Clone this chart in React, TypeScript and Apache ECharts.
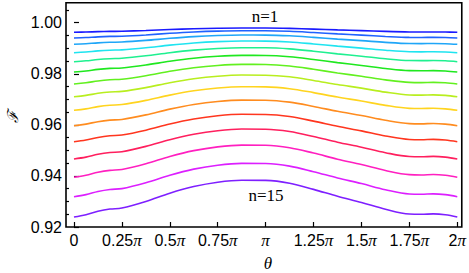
import React, { useEffect, useRef } from "react";
import * as echarts from "echarts";

// theta positions in units of pi
const thetas = [0, 0.0625, 0.125, 0.1875, 0.25, 0.375, 0.5, 0.625, 0.75, 0.875, 1, 1.125, 1.25, 1.375, 1.5, 1.625, 1.75, 1.8125, 1.875, 1.9375, 2];

const n1 = [0.99624, 0.99634, 0.9965, 0.9966, 0.99665, 0.99695, 0.99732, 0.99763, 0.99782, 0.99792, 0.99791, 0.99778, 0.9975, 0.99718, 0.9969, 0.99659, 0.99638, 0.99636, 0.99638, 0.99634, 0.99624];
const n2 = [0.99401, 0.99419, 0.99446, 0.99463, 0.99471, 0.99521, 0.99585, 0.99637, 0.99671, 0.99686, 0.99685, 0.99663, 0.99615, 0.99561, 0.99514, 0.99461, 0.99424, 0.99422, 0.99426, 0.99419, 0.99401];
const n3 = [0.99154, 0.99177, 0.99211, 0.99233, 0.99243, 0.99307, 0.99388, 0.99454, 0.99497, 0.99517, 0.99515, 0.99487, 0.99427, 0.99358, 0.99297, 0.9923, 0.99184, 0.99181, 0.99185, 0.99177, 0.99154];
const n4 = [0.98825, 0.98853, 0.98896, 0.98924, 0.98936, 0.99017, 0.9912, 0.99203, 0.99257, 0.99282, 0.99279, 0.99245, 0.99168, 0.99082, 0.99006, 0.98921, 0.98862, 0.98858, 0.98864, 0.98853, 0.98825];
const n5 = [0.98473, 0.98507, 0.98559, 0.98591, 0.98606, 0.98703, 0.98826, 0.98925, 0.9899, 0.99019, 0.99017, 0.98975, 0.98884, 0.9878, 0.98689, 0.98588, 0.98517, 0.98513, 0.9852, 0.98507, 0.98473];
const n6 = [0.98069, 0.9811, 0.98171, 0.9821, 0.98228, 0.98344, 0.9849, 0.98609, 0.98686, 0.98721, 0.98718, 0.98668, 0.98559, 0.98436, 0.98327, 0.98206, 0.98122, 0.98117, 0.98125, 0.9811, 0.98069];
const n7 = [0.97599, 0.97647, 0.97719, 0.97766, 0.97786, 0.97923, 0.98096, 0.98235, 0.98326, 0.98368, 0.98364, 0.98305, 0.98177, 0.98032, 0.97903, 0.97761, 0.97662, 0.97655, 0.97665, 0.97647, 0.97599];
const n8 = [0.97102, 0.97155, 0.97235, 0.97286, 0.97309, 0.97459, 0.97649, 0.97803, 0.97904, 0.9795, 0.97945, 0.97881, 0.97739, 0.97579, 0.97437, 0.97281, 0.97171, 0.97164, 0.97175, 0.97155, 0.97102];
const n9 = [0.9657, 0.96627, 0.96714, 0.9677, 0.96795, 0.96958, 0.97165, 0.97332, 0.97441, 0.97491, 0.97487, 0.97416, 0.97262, 0.97088, 0.96934, 0.96764, 0.96645, 0.96638, 0.9665, 0.96627, 0.9657];
const n10 = [0.95967, 0.96029, 0.96124, 0.96184, 0.96212, 0.9639, 0.96615, 0.96797, 0.96916, 0.9697, 0.96965, 0.96889, 0.96721, 0.96531, 0.96363, 0.96178, 0.96049, 0.9604, 0.96054, 0.96029, 0.95967];
const n11 = [0.9534, 0.95407, 0.95508, 0.95573, 0.95602, 0.95792, 0.96034, 0.96229, 0.96356, 0.96414, 0.96408, 0.96327, 0.96147, 0.95944, 0.95764, 0.95566, 0.95427, 0.95419, 0.95433, 0.95407, 0.9534];
const n12 = [0.94663, 0.94736, 0.94846, 0.94917, 0.94949, 0.95157, 0.9542, 0.95632, 0.95771, 0.95835, 0.95829, 0.95739, 0.95543, 0.95322, 0.95126, 0.9491, 0.94758, 0.94749, 0.94764, 0.94736, 0.94663];
const n13 = [0.93946, 0.94024, 0.94143, 0.94219, 0.94253, 0.94477, 0.94761, 0.9499, 0.95139, 0.95207, 0.95201, 0.95105, 0.94894, 0.94656, 0.94444, 0.94212, 0.94049, 0.94038, 0.94055, 0.94024, 0.93946];
const n14 = [0.93186, 0.93267, 0.9339, 0.93469, 0.93504, 0.93735, 0.94028, 0.94265, 0.94419, 0.9449, 0.94484, 0.94384, 0.94166, 0.9392, 0.93701, 0.93461, 0.93292, 0.93282, 0.93299, 0.93267, 0.93186];
const n15 = [0.92391, 0.92481, 0.92616, 0.92703, 0.92742, 0.92998, 0.93322, 0.93583, 0.93754, 0.93832, 0.93824, 0.93715, 0.93473, 0.93202, 0.9296, 0.92695, 0.92508, 0.92497, 0.92515, 0.92481, 0.92391];

const curves = [n1, n2, n3, n4, n5, n6, n7, n8, n9, n10, n11, n12, n13, n14, n15];
const colors = ["#1a1aff", "#1f62ff", "#1fa6f8", "#1fe4f0", "#1ff090", "#1fe81f", "#62f01f", "#b8ee1f", "#ffd41f", "#ff8c1f", "#ff361f", "#ff1f5e", "#ff1fc0", "#dc1fff", "#7e1fff"];

const xTickValues = [0, 0.25, 0.5, 0.75, 1, 1.25, 1.5, 1.75, 2];
const xTickNums = ["0", "0.25", "0.5", "0.75", "", "1.25", "1.5", "1.75", "2"];
const yTickValues = [0.92, 0.94, 0.96, 0.98, 1.0];
const yMinorValues = [0.925, 0.93, 0.935, 0.945, 0.95, 0.955, 0.965, 0.97, 0.975, 0.985, 0.99, 0.995, 1.005];

export default function App() {
  const ref = useRef<HTMLDivElement>(null);
  useEffect(() => {
    if (!ref.current) return;
    const chart = echarts.init(ref.current, null, { renderer: "svg" });
    const sans = "'Liberation Sans', Arial, sans-serif";
    const serif = "'Liberation Serif', 'Times New Roman', serif";
    chart.setOption({
      animation: false,
      grid: { left: 66, right: 5.5, top: 2.7, bottom: 46, show: true, borderColor: "#000", borderWidth: 1.6, backgroundColor: "transparent" },
      xAxis: {
        type: "value",
        min: -0.0416,
        max: 2.0234,
        axisLine: { show: false },
        splitLine: { show: false },
        axisTick: { show: true, inside: true, length: 5, customValues: xTickValues, lineStyle: { color: "#000", width: 1.2 } },
        axisLabel: {
          customValues: xTickValues,
          margin: 5,
          color: "#000",
          formatter: (v: number) => {
            const i = Math.round(v * 4);
            if (i === 0) return "{n|0}";
            return `{n|${xTickNums[i]}}{p|π}`;
          },
          rich: {
            n: { fontFamily: sans, fontSize: 16, color: "#000" },
            p: { fontFamily: serif, fontStyle: "italic", fontSize: 17, color: "#000" },
          },
        },
      },
      yAxis: [
        {
          type: "value",
          min: 0.92,
          max: 1.00783,
          position: "left",
          axisLine: { show: false },
          splitLine: { show: false },
          axisTick: { show: true, inside: true, length: 5, customValues: yTickValues, lineStyle: { color: "#000", width: 1.2 } },
          axisLabel: {
            customValues: yTickValues,
            margin: 4,
            color: "#000",
            fontFamily: sans,
            fontSize: 16,
            formatter: (v: number) => v.toFixed(2),
          },
        },
        {
          type: "value",
          min: 0.92,
          max: 1.00783,
          position: "left",
          axisLine: { show: false },
          splitLine: { show: false },
          axisTick: { show: true, inside: true, length: 3, customValues: yMinorValues, lineStyle: { color: "#000", width: 1.2 } },
          axisLabel: { show: false },
        },
      ],
      series: curves.map((arr, k) => ({
        type: "line",
        name: `n=${k + 1}`,
        data: thetas.map((t, i) => [t, arr[i]]),
        smooth: 0.35,
        showSymbol: false,
        symbol: "none",
        lineStyle: { width: 1.6, color: colors[k] },
        itemStyle: { color: colors[k] },
        z: 3,
      })),
      graphic: [
        { type: "text", x: 265, y: 16, style: { text: "n=1", fontFamily: serif, fontSize: 17, fill: "#000", align: "center", verticalAlign: "middle" } },
        { type: "text", x: 266, y: 195, style: { text: "n=15", fontFamily: serif, fontSize: 17, fill: "#000", align: "center", verticalAlign: "middle" } },
        { type: "text", x: 268, y: 263, style: { text: "θ", fontFamily: serif, fontStyle: "italic", fontSize: 17, fill: "#000", align: "center", verticalAlign: "middle" } },
        { type: "text", x: 13, y: 117, rotation: Math.PI / 2, style: { text: "ℱ", fontFamily: "'DejaVu Serif', serif", fontStyle: "italic", fontSize: 15, fill: "#000", align: "center", verticalAlign: "middle" } },
      ],
    });
    return () => chart.dispose();
  }, []);
  return <div ref={ref} style={{ width: 469, height: 273, position: "absolute", left: 0, top: 0 }} />;
}
